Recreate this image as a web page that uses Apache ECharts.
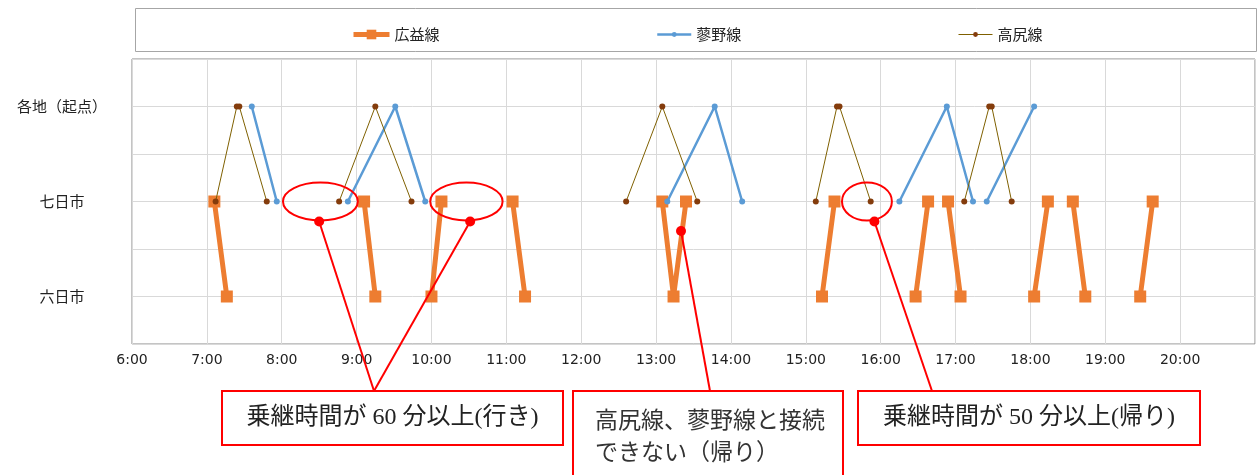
<!DOCTYPE html>
<html>
<head>
<meta charset="utf-8">
<script src="https://cdn.jsdelivr.net/npm/echarts@6/dist/echarts.min.js"></script>
<style>
html,body{margin:0;padding:0;background:#fff}
#main{width:1258px;height:475px}
</style>
</head>
<body>
<div id="main"></div>
<script>
// 縦軸の停留所
var stops = ['六日市', '七日市', '各地（起点）'];
var stopLevels = [1, 3, 5];

// 広益線（null で線を切る）
var koekiTimes = ['7:06','7:16',null,'9:06','9:15',null,'10:00','10:08',null,'11:05','11:15',null,
  '13:05','13:14','13:24',null,'15:13','15:23',null,'16:28','16:38',null,'16:54','17:04',null,
  '18:03','18:14',null,'18:34','18:44',null,'19:28','19:38'];
var koekiStops = ['七日市','六日市',null,'七日市','六日市',null,'六日市','七日市',null,'七日市','六日市',null,
  '七日市','六日市','七日市',null,'六日市','七日市',null,'六日市','七日市',null,'七日市','六日市',null,
  '六日市','七日市',null,'七日市','六日市',null,'六日市','七日市'];

// 蓼野線
var tadeTimes = ['7:36','7:56',null,'8:53','9:31','9:55',null,'13:09','13:47','14:09',null,
  '16:15','16:53','17:14',null,'17:25','18:03'];
var tadeStops = ['各地（起点）','七日市',null,'七日市','各地（起点）','七日市',null,'七日市','各地（起点）','七日市',null,
  '七日市','各地（起点）','七日市',null,'七日市','各地（起点）'];

// 高尻線
var takaTimes = ['7:07','7:24','7:26','7:48',null,'8:46','9:15','9:44',null,'12:36','13:05','13:33',null,
  '15:08','15:25','15:27','15:52',null,'17:07','17:27','17:29','17:45'];
var takaStops = ['七日市','各地（起点）','各地（起点）','七日市',null,'七日市','各地（起点）','七日市',null,'七日市','各地（起点）','七日市',null,
  '七日市','各地（起点）','各地（起点）','七日市',null,'七日市','各地（起点）','各地（起点）','七日市'];

// 注記：楕円（七日市の上、中心時刻と半幅[分]）、赤丸（時刻, 高さ）、文章
var gapCenters = ['8:31','10:28','15:49'];
var gapHalfMin = [30, 29, 20];
var noteDotTimes = ['8:30','10:31','13:20','15:55'];
var noteDotLevels = [2.58, 2.58, 2.38, 2.58];
var noteBoxOfDot = [0, 0, 1, 2];
var noteTexts = ['乗継時間が 60 分以上(行き)', '高尻線、蓼野線と接続\nできない（帰り）', '乗継時間が 50 分以上(帰り)'];

function toMin(t){
  if(t == null) return null;
  var p = t.split(':');
  return +p[0] * 60 + (+p[1]);
}
function buildData(times, names){
  return times.map(function(t, i){
    if(t == null) return ['-', '-'];
    return [toMin(t), stopLevels[stops.indexOf(names[i])]];
  });
}

var chart = echarts.init(document.getElementById('main'));
var legendText = {fontFamily:'"Noto Sans CJK JP"', fontSize:15, color:'#222'};

chart.setOption({
  animation:false,
  legend:[
    {data:['広益線'], left:346, top:22, itemWidth:36, itemHeight:12,
      lineStyle:{width:5}, textStyle:legendText},
    {data:['蓼野線'], left:651, top:22, itemWidth:34, itemHeight:6,
      lineStyle:{width:2.5}, textStyle:legendText},
    {data:['高尻線'], left:953, top:22, itemWidth:34, itemHeight:6,
      lineStyle:{width:1}, textStyle:legendText}
  ],
  grid:{left:132, right:3, top:59, bottom:131, show:true, borderColor:'#898989', borderWidth:1},
  xAxis:{
    type:'value', min:360, max:1260, interval:60,
    axisLine:{show:false}, axisTick:{show:false},
    splitLine:{show:true, lineStyle:{color:'#D9D9D9', width:1}},
    axisLabel:{
      showMaxLabel:false, margin:9,
      fontFamily:'"DejaVu Sans"', fontSize:14, color:'#222',
      formatter:function(v){ return Math.floor(v / 60) + ':' + ('0' + (v % 60)).slice(-2); }
    }
  },
  yAxis:{
    type:'value', min:0, max:6, interval:1,
    axisLine:{show:false}, axisTick:{show:false},
    splitLine:{show:true, lineStyle:{color:'#D9D9D9', width:1}},
    axisLabel:{
      margin:70, align:'center',
      fontFamily:'"Noto Sans CJK JP"', fontSize:15, color:'#222',
      formatter:function(v){
        var i = stopLevels.indexOf(v);
        return i < 0 ? '' : stops[i];
      }
    }
  },
  series:[
    {
      name:'広益線', type:'line', data:buildData(koekiTimes, koekiStops),
      symbol:'rect', symbolSize:12, showSymbol:true,
      lineStyle:{color:'#ED7D31', width:5},
      itemStyle:{color:'#ED7D31'}, z:3
    },
    {
      name:'蓼野線', type:'line', data:buildData(tadeTimes, tadeStops),
      symbol:'circle', symbolSize:6,
      lineStyle:{color:'#5B9BD5', width:2.5},
      itemStyle:{color:'#5B9BD5'}, z:4
    },
    {
      name:'高尻線', type:'line', data:buildData(takaTimes, takaStops),
      symbol:'circle', symbolSize:6,
      lineStyle:{color:'#7F6000', width:1},
      itemStyle:{color:'#843C0C'}, z:5
    }
  ]
});

// 注記を描く
var boxes = [
  {x:222, y:391, w:341, h:54, anchor:374},
  {x:573, y:391, w:270, h:90, anchor:710},
  {x:858, y:391, w:342, h:54, anchor:932}
];
var graphics = [];
graphics.push({type:'rect', shape:{x:135.5, y:8.5, width:1121, height:43},
  style:{fill:'rgba(0,0,0,0)', stroke:'#A6A6A6', lineWidth:1}, z:-1, silent:true});

gapCenters.forEach(function(t, i){
  var c = chart.convertToPixel({gridIndex:0}, [toMin(t), 3]);
  var e = chart.convertToPixel({gridIndex:0}, [toMin(t) + gapHalfMin[i], 3.4]);
  graphics.push({type:'ellipse', shape:{cx:c[0], cy:c[1], rx:e[0] - c[0], ry:c[1] - e[1]},
    style:{fill:'rgba(0,0,0,0)', stroke:'#FF0000', lineWidth:2}, z:100});
});
noteDotTimes.forEach(function(t, i){
  var p = chart.convertToPixel({gridIndex:0}, [toMin(t), noteDotLevels[i]]);
  var b = boxes[noteBoxOfDot[i]];
  graphics.push({type:'line', shape:{x1:p[0], y1:p[1], x2:b.anchor, y2:b.y},
    style:{stroke:'#FF0000', lineWidth:2}, z:100});
  graphics.push({type:'circle', shape:{cx:p[0], cy:p[1], r:5},
    style:{fill:'#FF0000'}, z:101});
});
boxes.forEach(function(b, i){
  graphics.push({type:'rect', shape:{x:b.x, y:b.y, width:b.w, height:b.h},
    style:{fill:'#fff', stroke:'#FF0000', lineWidth:2}, z:102});
  if(i == 1){
    graphics.push({type:'text', style:{text:noteTexts[i], x:b.x + 22, y:b.y + 12,
      fontFamily:'"Noto Sans CJK JP"', fontSize:23, lineHeight:32, fill:'#333',
      align:'left', verticalAlign:'top'}, z:103});
  } else {
    graphics.push({type:'text', style:{text:noteTexts[i], x:b.x + b.w / 2, y:b.y + b.h / 2,
      fontFamily:'"Liberation Serif", "Noto Sans CJK JP"', fontSize:24, fill:'#222',
      align:'center', verticalAlign:'middle'}, z:103});
  }
});
chart.setOption({graphic:graphics});
</script>
</body>
</html>
